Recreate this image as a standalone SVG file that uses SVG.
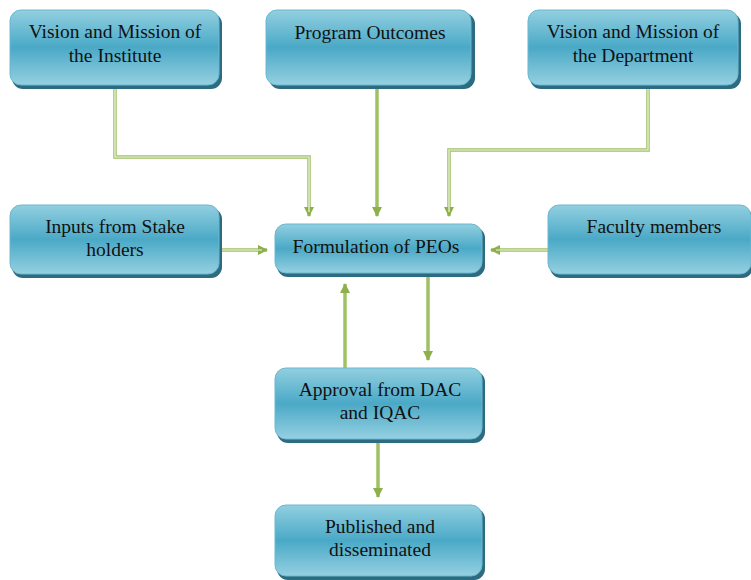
<svg xmlns="http://www.w3.org/2000/svg" width="751" height="580" viewBox="0 0 751 580">
  <defs>
    <linearGradient id="boxFill" x1="0" y1="0" x2="0" y2="1">
      <stop offset="0" stop-color="#92cfe0"/>
      <stop offset="0.5" stop-color="#4aa9c7"/>
      <stop offset="1" stop-color="#95d0e1"/>
    </linearGradient>
    <marker id="arrow" viewBox="0 0 10 10" refX="9" refY="5" markerWidth="3" markerHeight="3" orient="auto" markerUnits="strokeWidth">
      <path d="M0,0 L10,5 L0,10 Z" fill="#8db04d"/>
    </marker>
  </defs>
  <style>
    .shadow { fill: #2d6b80; }
    .box { fill: url(#boxFill); stroke: #6bb8d0; stroke-width: 1; }
    .label { font-size: 19.5px; fill: #111111; text-anchor: middle; }
    .wire { fill: none; stroke: #9fc063; stroke-width: 3.5; stroke-linejoin: miter; }
    .wire-core { fill: none; stroke: #f2f6e6; stroke-width: 1.2; }
  </style>

  <rect width="751" height="580" fill="#ffffff"/>

  <!-- connectors -->
  <g id="connectors">
    <path class="wire" d="M115,88 V157 H309 V216" marker-end="url(#arrow)"/>
    <path class="wire-core" d="M115,88 V157 H309 V212"/>
    <path class="wire" d="M377,88 V216" marker-end="url(#arrow)"/>
    <path class="wire" d="M648,88 V150 H449 V216" marker-end="url(#arrow)"/>
    <path class="wire-core" d="M648,88 V150 H449 V212"/>
    <path class="wire" d="M220,250 H267" marker-end="url(#arrow)"/>
    <path class="wire-core" d="M220,250 H262"/>
    <path class="wire" d="M548,250 H491" marker-end="url(#arrow)"/>
    <path class="wire-core" d="M548,250 H496"/>
    <path class="wire" d="M428,276 V360" marker-end="url(#arrow)"/>
    <path class="wire" d="M345,368 V284" marker-end="url(#arrow)"/>
    <path class="wire" d="M378,443 V497" marker-end="url(#arrow)"/>
  </g>

  <g font-family="'Liberation Serif', 'DejaVu Serif', serif">
  <g id="vision-institute">
    <rect class="shadow" x="12" y="13" width="210" height="76" rx="11"/>
    <rect class="box" x="10" y="10" width="209" height="75" rx="11"/>
    <text class="label" x="115" y="38">Vision and Mission of</text>
    <text class="label" x="115" y="62">the Institute</text>
  </g>

  <g id="program-outcomes">
    <rect class="shadow" x="269" y="13" width="206" height="76" rx="11"/>
    <rect class="box" x="266" y="10" width="205" height="75" rx="11"/>
    <text class="label" x="370" y="39">Program Outcomes</text>
  </g>

  <g id="vision-department">
    <rect class="shadow" x="530" y="13" width="211" height="76" rx="11"/>
    <rect class="box" x="528" y="10" width="210" height="75" rx="11"/>
    <text class="label" x="633" y="38">Vision and Mission of</text>
    <text class="label" x="633" y="62">the Department</text>
  </g>

  <g id="stakeholders">
    <rect class="shadow" x="12" y="208" width="210" height="70" rx="11"/>
    <rect class="box" x="10" y="205" width="209" height="69" rx="11"/>
    <text class="label" x="115" y="233">Inputs from Stake</text>
    <text class="label" x="115" y="256">holders</text>
  </g>

  <g id="formulation">
    <rect class="shadow" x="277" y="227" width="208" height="50" rx="11"/>
    <rect class="box" x="275" y="224" width="207" height="49" rx="11"/>
    <text class="label" x="376" y="253">Formulation of PEOs</text>
  </g>

  <g id="faculty">
    <rect class="shadow" x="550" y="208" width="203" height="70" rx="11"/>
    <rect class="box" x="548" y="205" width="203" height="69" rx="11"/>
    <text class="label" x="654" y="233">Faculty members</text>
  </g>

  <g id="approval">
    <rect class="shadow" x="277" y="371" width="208" height="72" rx="11"/>
    <rect class="box" x="275" y="368" width="207" height="71" rx="11"/>
    <text class="label" x="380" y="396">Approval from DAC</text>
    <text class="label" x="380" y="419">and IQAC</text>
  </g>

  <g id="published">
    <rect class="shadow" x="277" y="508" width="208" height="72" rx="11"/>
    <rect class="box" x="275" y="505" width="207" height="71" rx="11"/>
    <text class="label" x="380" y="533">Published and</text>
    <text class="label" x="380" y="556">disseminated</text>
  </g>
  </g>
</svg>
